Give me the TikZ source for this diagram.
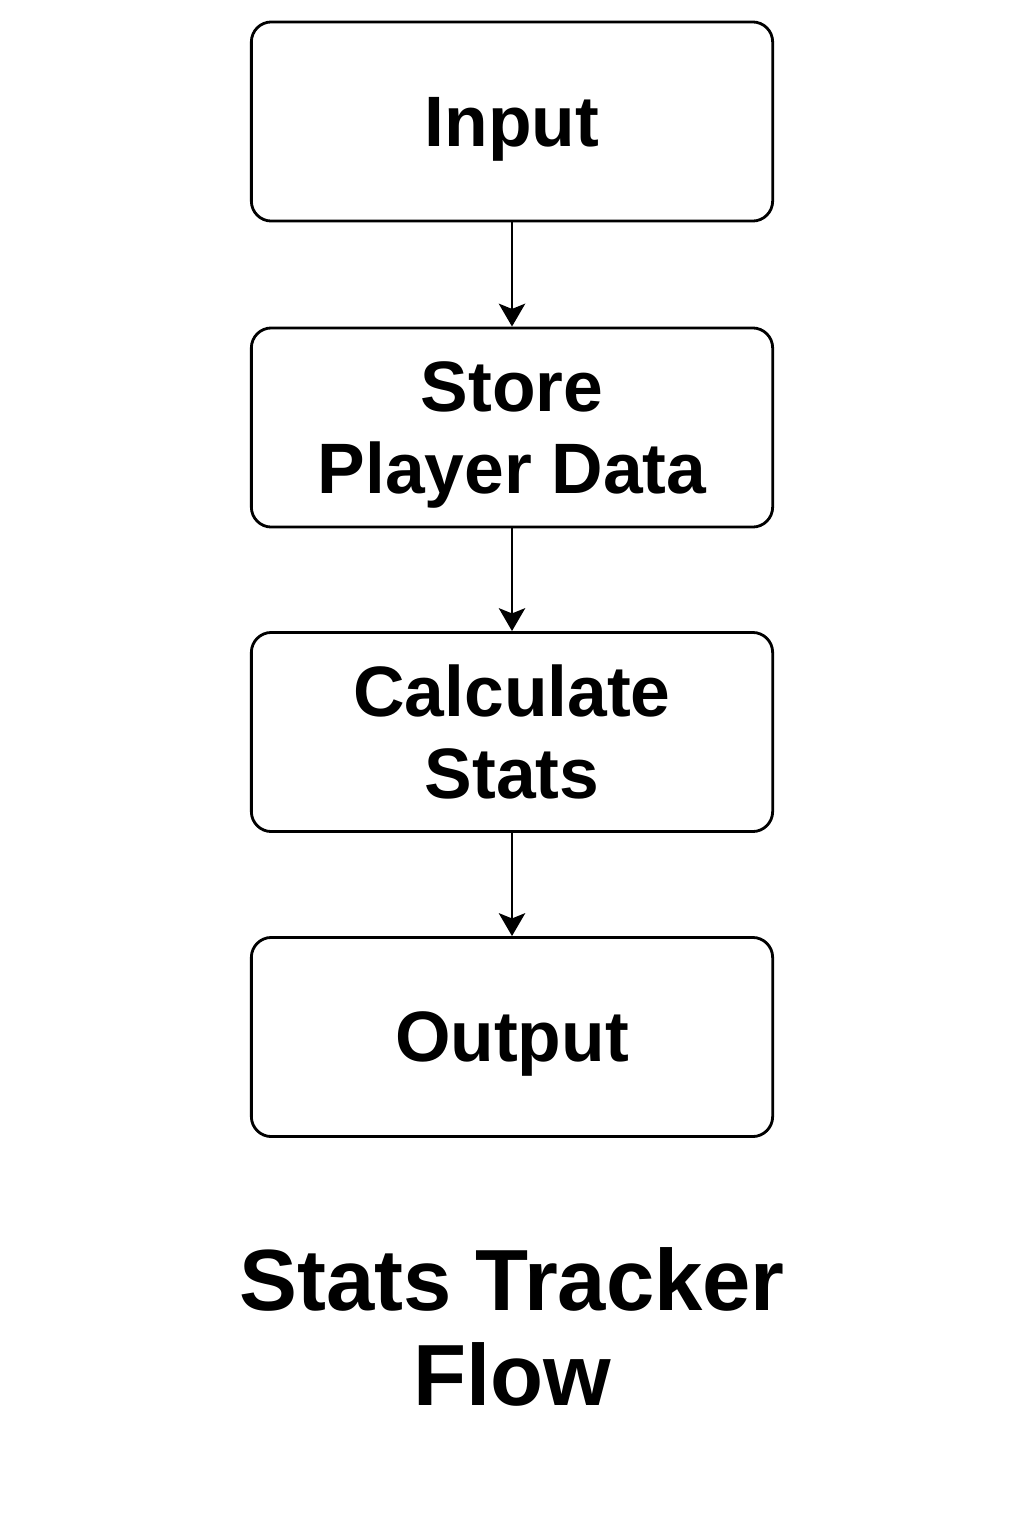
\documentclass[tikz,border=0pt]{standalone}
\usepackage{fontspec}
\setmainfont{Liberation Sans}
\usetikzlibrary{arrows.meta}
\begin{document}
\begin{tikzpicture}[x=0.01cm,y=-0.01cm,
  box/.style={draw, line width=0.8pt, rounded corners=0.2cm, minimum width=5.21cm, minimum height=1.99cm, align=center, text depth=0pt, font=\fontsize{20.3}{23.3}\selectfont\bfseries},
  conn/.style={line width=0.75pt, -{Stealth[length=6.5pt,width=7.5pt,inset=1.5pt]}},
  title/.style={align=center, text depth=0pt, font=\fontsize{24.7}{27}\selectfont\bfseries}]
\useasboundingbox (0,0) rectangle (1024,1536);
\node[box] (in) at (512,121.5) {Input};
\node[box] (st) at (512,427.5) {Store\\Player Data};
\node[box] (ca) at (512,732) {Calculate\\Stats};
\node[box] (ou) at (512,1037) {Output};
\draw[conn] (in) -- (st);
\draw[conn] (st) -- (ca);
\draw[conn] (ca) -- (ou);
\node[title] (t) at (512,1326.5) {Stats Tracker\\Flow};
\end{tikzpicture}
\end{document}
